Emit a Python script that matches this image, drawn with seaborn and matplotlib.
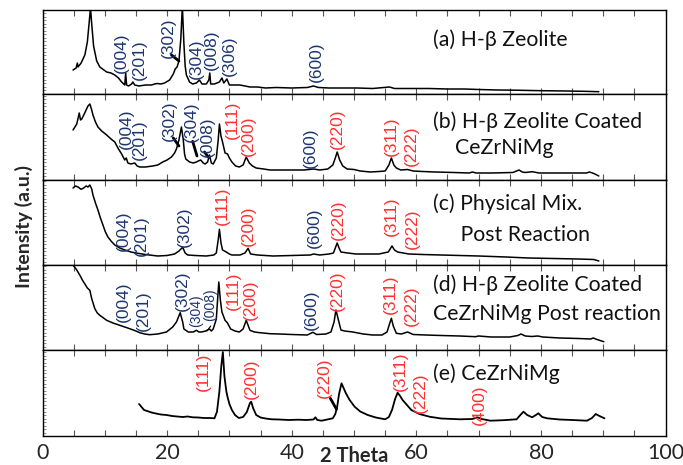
import matplotlib
matplotlib.use("Agg")
import matplotlib.pyplot as plt
from matplotlib.ticker import MultipleLocator
import seaborn as sns
import pandas as pd

# XRD patterns (2 theta, intensity in arbitrary units)
a_theta = [4.9, 5.4, 5.6, 5.7, 6.2, 6.8, 7.2, 7.5, 7.7, 7.9, 8.2, 8.7, 9.2, 10.3, 11.0, 11.6, 12.2, 12.7,
           13.2, 13.35, 13.5, 13.8, 14.3, 14.5, 14.8, 15.5, 16.5, 17.5, 18.0, 18.4, 19.0, 19.6, 20.4,
           21.0, 21.3, 21.6, 21.9, 22.2, 22.45, 22.7, 22.9, 23.1, 23.6, 24.1, 24.7, 25.2, 25.6, 26.3,
           26.7, 26.85, 27.0, 27.6, 28.4, 28.8, 29.1, 29.6, 30.0, 31.0, 31.7, 32.5, 33.3, 34.5, 35.8,
           37.5, 40.0, 42.5, 43.5, 44.3, 46.0, 48.0, 50.5, 53.0, 55.7, 56.5, 59.0, 62.0, 65.0, 67.7,
           70.0, 73.0, 76.0, 80.0, 84.0, 87.0, 89.3]
a_int = [24, 26, 31, 27, 31, 39, 52, 72, 86, 70, 48, 33, 27, 22, 21, 19, 16, 12,
         9, 21, 9, 8, 10, 12, 9, 8, 9, 9, 10, 10.5, 10, 11, 14,
         20, 25, 27, 33, 55, 88, 50, 28, 19, 12, 10, 11, 14, 10, 10,
         14, 21, 10, 10, 12, 16, 11, 15, 9, 9, 9, 8, 7, 7, 6,
         6.5, 6, 6.5, 8, 6.5, 6, 6, 6, 5.5, 7, 5.5, 5.5, 5.5, 5, 5,
         4.5, 4, 3.8, 3.3, 3, 2.7, 2.3]

b_theta = [4.9, 5.3, 5.5, 5.9, 6.1, 6.3, 6.7, 7.0, 7.3, 7.6, 7.9, 8.1, 8.5, 8.9, 9.5, 10.3, 11.0, 11.6,
           12.2, 12.7, 13.2, 13.45, 13.7, 14.2, 14.8, 15.2, 15.6, 16.5, 17.7, 18.5, 19.3, 20.0, 20.7,
           21.2, 21.5, 21.9, 22.3, 22.6, 22.8, 23.0, 23.6, 24.2, 24.7, 25.0, 25.4, 25.8, 26.1, 26.5,
           26.8, 27.1, 27.4, 27.9, 28.2, 28.4, 28.65, 28.9, 29.3, 29.7, 30.0, 30.4, 31.0, 31.6, 32.2,
           32.7, 33.2, 33.7, 34.3, 35.5, 36.5, 38.0, 40.0, 42.0, 43.5, 44.5, 45.8, 46.6, 47.0, 47.3,
           47.7, 48.2, 48.9, 50.0, 51.0, 52.6, 54.0, 55.0, 55.6, 56.0, 56.4, 56.8, 57.5, 58.6, 59.5,
           61.0, 63.0, 66.0, 68.5, 69.0, 69.6, 72.0, 75.5, 76.5, 77.0, 77.5, 78.6, 79.7, 82.0, 85.0,
           87.3, 87.8, 88.5, 89.3]
b_int = [50, 54, 56, 67, 60, 61, 66, 70, 74, 76, 70, 65, 58, 53, 49, 45, 41, 38,
         31, 26, 20, 22, 17, 16, 17, 14, 13, 13, 14, 15, 18, 20, 23,
         27, 31, 40, 53, 40, 26, 21, 18, 17, 18, 19, 20, 17, 16, 18,
         25, 17, 16, 22, 40, 56, 44, 38, 27, 26, 22, 18, 14, 13, 15,
         23, 17, 14, 12, 11, 10, 10, 10, 10, 11, 10, 11, 15, 22, 28,
         20, 14, 11, 10.5, 9, 8, 8.5, 9, 15, 22, 15, 12, 10, 10.5, 9,
         8.5, 8, 7.5, 7, 8, 7, 7, 7.5, 10, 8, 7.5, 8.3, 7, 7, 7,
         7, 8, 6.5, 4]

c_theta = [4.9, 5.3, 5.7, 6.2, 6.6, 7.0, 7.3, 7.6, 7.9, 8.1, 8.5, 8.9, 9.3, 9.7, 10.1, 10.5, 11.0, 11.6,
           12.4, 13.2, 14.2, 15.3, 16.5, 18.5, 20.0, 21.2, 21.9, 22.5, 22.9, 23.3, 24.5, 26.3, 27.5,
           27.9, 28.2, 28.4, 28.65, 28.9, 29.5, 30.0, 30.4, 31.7, 32.5, 33.0, 33.4, 34.5, 37.0, 40.0,
           43.0, 43.5, 44.5, 46.0, 46.7, 47.0, 47.3, 47.6, 47.9, 49.0, 50.3, 52.0, 54.0, 55.5, 56.1,
           56.5, 57.0, 58.8, 61.0, 64.0, 67.0, 70.0, 74.4, 78.0, 82.0, 86.0, 88.5, 89.3]
c_int = [77, 79, 78, 75.7, 77, 79, 78, 80, 76, 70, 62, 55, 47, 40, 33, 28, 24, 20,
         17, 15, 13, 11.7, 10.5, 9, 9.5, 11, 14, 17.7, 12, 10, 9.5, 9, 10,
         12, 25, 35.7, 22, 15, 13, 11, 10, 10, 12, 16.7, 11, 10, 9, 9.5,
         10, 11, 10, 11, 12, 17, 22, 17, 13, 12, 11, 11, 11, 13, 19,
         15, 13, 11, 10.5, 10, 9.5, 9, 8, 7, 6.5, 6, 5.5, 4]

d_theta = [4.9, 5.5, 6.0, 6.4, 6.8, 7.2, 7.6, 7.9, 8.4, 8.8, 9.2, 10.3, 11.3, 12.4, 13.2, 14.0, 15.0, 15.6,
           16.4, 17.2, 18.5, 19.9, 20.9, 21.5, 22.1, 22.5, 22.7, 23.4, 24.2, 24.7, 25.1, 25.5, 26.2,
           26.8, 27.1, 27.4, 27.9, 28.1, 28.3, 28.55, 28.8, 29.3, 29.7, 30.2, 30.9, 31.6, 32.2, 32.7,
           33.3, 34.0, 34.9, 36.5, 38.0, 40.0, 42.5, 43.4, 44.0, 45.5, 46.3, 46.8, 47.1, 47.5, 47.9,
           48.5, 49.8, 51.5, 53.0, 54.5, 55.3, 55.7, 56.0, 56.3, 56.8, 57.6, 58.6, 59.5, 61.5, 64.0,
           67.0, 69.5, 70.0, 72.0, 75.0, 76.3, 76.8, 77.5, 78.5, 79.5, 80.3, 83.0, 86.0, 88.0, 88.4,
           89.0, 90.1]
d_int = [85, 80, 74.7, 70, 66, 62, 59.7, 51.3, 41.3, 37, 34.7, 29.7, 27, 24.7, 23, 21.3, 19, 17.3,
         16, 15.3, 16, 18, 23, 28, 37.3, 28, 21, 18, 18, 19.7, 18, 18, 19,
         21, 19, 21, 31, 50, 68, 50, 38, 29.7, 27, 21, 19, 18, 21, 29.7,
         19.7, 18, 17.3, 16.3, 16, 15.5, 15, 17.7, 15.5, 16, 18, 28, 40, 30, 20,
         19, 18, 16, 15, 15, 18, 26, 31.7, 24, 16.7, 16, 18, 15.5, 15, 14.5,
         14, 13.3, 14, 13, 13, 14.5, 16, 14, 13.5, 14, 13, 12, 11.5, 11, 12,
         10.5, 8.3]

e_theta = [15.5, 15.9, 16.3, 16.8, 17.5, 18.2, 19.0, 19.9, 20.8, 21.6, 22.5, 23.3, 24.1, 25.0, 25.9, 26.8,
           27.6, 28.0, 28.4, 28.7, 28.95, 29.2, 29.5, 29.7, 30.0, 30.4, 30.9, 31.5, 32.2, 32.8, 33.3,
           33.5, 33.8, 34.3, 35.0, 35.8, 36.8, 38.0, 39.5, 41.0, 42.4, 43.5, 43.8, 44.1, 44.8, 45.7,
           46.6, 47.0, 47.3, 47.6, 48.0, 48.4, 48.7, 49.3, 50.1, 51.0, 52.2, 53.5, 55.0, 55.6, 56.1,
           56.6, 57.0, 57.4, 57.8, 58.5, 59.2, 60.5, 62.1, 64.0, 67.0, 69.0, 69.8, 70.5, 71.9, 74.0,
           76.1, 76.7, 77.2, 77.8, 78.6, 79.2, 79.6, 80.2, 81.0, 83.0, 85.0, 87.4, 88.2, 88.8, 89.4,
           90.2]
e_int = [32, 29, 26, 25, 23.5, 22.5, 21.5, 21, 20, 19.5, 19, 19.5, 18.7, 18.5, 18, 18,
         17.7, 24, 45, 70, 84, 60, 45, 39, 32, 26, 21, 18, 19, 24, 33,
         34.3, 28, 21, 18.5, 17.5, 16.7, 16.5, 16, 16.3, 16, 16.5, 18.7, 16, 15.3, 16.5,
         17.7, 22, 29.3, 42, 52.7, 47, 42.7, 36, 29.3, 24.5, 21, 18.5, 16.7, 19, 26,
         37, 43.3, 40, 36, 31, 26, 22, 19.3, 17.5, 16.7, 17, 18.7, 17, 15.3, 15.8,
         16.7, 21, 24.3, 21, 18.7, 21, 22.7, 19, 17.7, 16.5, 16, 15.3, 18, 22, 20,
         17.7]

# reflection labels: (hkl, 2 theta, height, phase)
a_peaks = [("(004)", 12.7, 41.5, "beta"), ("(201)", 15.6, 34, "beta"), ("(302)", 20.2, 56.5, "beta"),
           ("(304)", 24.7, 35.5, "beta"), ("(008)", 27.1, 44, "beta"), ("(306)", 30.0, 38, "beta"),
           ("(600)", 43.9, 32.3, "beta")]
b_peaks = [("(004)", 13.5, 51, "beta"), ("(201)", 15.6, 40, "beta"), ("(302)", 20.3, 59, "beta"),
           ("(304)", 23.9, 58.7, "beta"), ("(008)", 26.5, 43, "beta"), ("(111)", 30.5, 60.5, "ceria"),
           ("(200)", 33.0, 44, "ceria"), ("(600)", 43.0, 32.5, "beta"), ("(220)", 47.3, 51, "ceria"),
           ("(311)", 56.0, 43.3, "ceria"), ("(222)", 59.2, 34.3, "ceria")]
c_peaks = [("(004)", 13.0, 34.5, "beta"), ("(201)", 15.9, 29.5, "beta"), ("(302)", 22.7, 38.3, "beta"),
           ("(111)", 28.9, 59.3, "ceria"), ("(200)", 33.1, 39.2, "ceria"), ("(600)", 43.7, 37.5, "beta"),
           ("(220)", 47.5, 45, "ceria"), ("(311)", 56.0, 48.3, "ceria"), ("(222)", 59.4, 36, "ceria")]
d_peaks = [("(004)", 13.0, 48, "beta"), ("(201)", 16.2, 39.7, "beta"), ("(302)", 22.5, 59.7, "beta"),
           ("(304)", 24.7, 39.7, "beta_small"), ("(008)", 26.9, 45.5, "beta_small"),
           ("(111)", 30.6, 59, "ceria"), ("(200)", 33.4, 50.5, "ceria"), ("(600)", 43.1, 40, "beta"),
           ("(220)", 47.3, 59.2, "ceria"), ("(311)", 55.8, 56, "ceria"), ("(222)", 59.2, 44.3, "ceria")]
e_peaks = [("(111)", 25.9, 64.3, "ceria"), ("(200)", 33.6, 56.8, "ceria"), ("(220)", 45.3, 58.5, "ceria"),
           ("(311)", 57.5, 64.3, "ceria"), ("(222)", 60.6, 43.5, "ceria"), ("(400)", 70.1, 31, "ceria")]

# short leader strokes from label to reflection
a_leaders = [(20.7, 39, 21.9, 33, 2.0)]
b_leaders = [(21.0, 42, 21.9, 34, 2.0), (24.1, 38.7, 24.8, 24, 2.0), (26.0, 28, 26.6, 23, 2.0)]
c_leaders = []
d_leaders = [(26.4, 19, 27.0, 24, 0.8)]
e_leaders = [(46.2, 37.7, 47.2, 26.7, 2.0)]

sample_titles = [["(a) H-β Zeolite"],
                 ["(b) H-β Zeolite Coated", "    CeZrNiMg"],
                 ["(c) Physical Mix.", "     Post Reaction"],
                 ["(d) H-β Zeolite Coated", "CeZrNiMg Post reaction"],
                 ["(e) CeZrNiMg"]]

label_colors = {"beta": "#1d3570", "beta_small": "#1d3570", "ceria": "#ff3030"}

sns.set_theme(style="ticks")
plt.rcParams["font.family"] = ["Lato", "DejaVu Sans"]

W, H = 683, 465
x0, x1 = 42.5, 665.5
edges = [10, 94, 180, 265, 350, 436]
title_pos = [[40], [121.7, 148.3], [203.3, 235], [285, 314], [373.3]]

fig = plt.figure(figsize=(W / 100, H / 100), dpi=100)

panels = [(a_theta, a_int, a_peaks, a_leaders), (b_theta, b_int, b_peaks, b_leaders),
          (c_theta, c_int, c_peaks, c_leaders), (d_theta, d_int, d_peaks, d_leaders),
          (e_theta, e_int, e_peaks, e_leaders)]

for i, (theta, inten, peaks, leaders) in enumerate(panels):
    top, bot = edges[i], edges[i + 1]
    ax = fig.add_axes([x0 / W, 1 - bot / H, (x1 - x0) / W, (bot - top) / H])
    df = pd.DataFrame({"two_theta": theta, "intensity": inten})
    sns.lineplot(data=df, x="two_theta", y="intensity", ax=ax, color="black",
                 lw=1.3 if i == 4 else 1.1, estimator=None, sort=False)
    ax.set_xlim(0, 100)
    ax.set_ylim(0, bot - top)
    ax.set_xlabel("")
    ax.set_ylabel("")

    for lab, tx, hy, phase in peaks:
        ax.text(tx, hy, lab, rotation=90, ha="center", va="center",
                color=label_colors[phase], family=["Liberation Sans", "DejaVu Sans"],
                fontsize=10 if phase == "beta_small" else 12.5)
    for xa, ya, xb, yb, w in leaders:
        ax.plot([xa, xb], [ya, yb], color="black", lw=w)

    ylines = title_pos[i]
    for line, yy in zip(sample_titles[i], ylines):
        ax.text((433 - x0) / (x1 - x0), (bot - yy) / (bot - top), line,
                transform=ax.transAxes, ha="left", va="center", fontsize=15.3, color="#111111")

    ax.xaxis.set_major_locator(MultipleLocator(20))
    ax.xaxis.set_minor_locator(MultipleLocator(5))
    ax.yaxis.set_major_locator(MultipleLocator(1000))
    ax.yaxis.set_minor_locator(MultipleLocator(3.5))
    ax.tick_params(axis="x", which="both", direction="in", top=True, bottom=True,
                   length=4, width=0.8, color="#555555")
    ax.tick_params(axis="y", which="both", direction="in", left=True, right=False,
                   length=2, width=0.6, color="#777777", labelleft=False)
    for sp in ax.spines.values():
        sp.set_visible(True)
        sp.set_color("black")
        sp.set_linewidth(1.0)
    if i < 4:
        ax.tick_params(axis="x", labelbottom=False)
    else:
        ax.tick_params(axis="x", labelsize=15.5, pad=5)

fig.text(354 / W, 1 - 456 / H, "2 Theta", ha="center", va="center", fontsize=14.5, fontweight="bold")
fig.text(23.5 / W, 1 - 226 / H, "Intensity (a.u.)", rotation=90, ha="center", va="center",
         fontsize=14, fontweight="bold")

fig.savefig("out.png", dpi=100)
